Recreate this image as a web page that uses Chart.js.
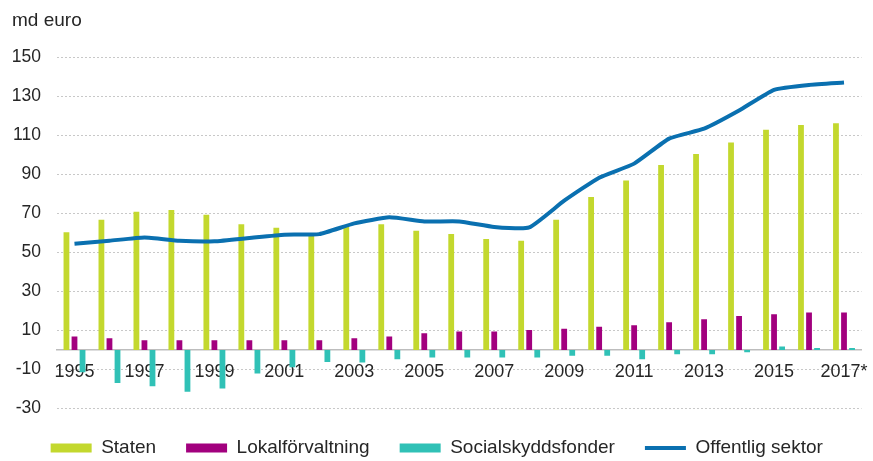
<!DOCTYPE html>
<html>
<head>
<meta charset="utf-8">
<script src="https://cdn.jsdelivr.net/npm/chart.js@4.4.1/dist/chart.umd.min.js"></script>
<style>
  html, body { margin: 0; padding: 0; background: #fff; }
  #wrap { width: 873px; height: 461px; }
</style>
</head>
<body>
<div id="wrap"><canvas id="myChart" width="873" height="461"></canvas></div>
<script>
'use strict';
const years = ['1995', '1996', '1997', '1998', '1999', '2000', '2001', '2002', '2003', '2004', '2005', '2006', '2007', '2008', '2009', '2010', '2011', '2012', '2013', '2014', '2015', '2016', '2017*'];
const staten = [60.2, 66.7, 70.8, 71.6, 69.2, 64.3, 62.6, 59, 63.5, 64.4, 61, 59.3, 56.8, 55.9, 66.7, 78.3, 86.7, 94.7, 100.3, 106.2, 112.8, 115.2, 116.1];
const lokal = [6.9, 6.0, 5.0, 5.0, 5.0, 5.0, 5.0, 5.0, 6.0, 6.9, 8.5, 9.4, 9.4, 10.2, 10.9, 11.9, 12.6, 14.2, 15.7, 17.4, 18.3, 19.1, 19.1];
const social = [-11.5, -16.9, -18.6, -21.4, -19.7, -12.1, -8.9, -6.2, -6.5, -4.8, -3.9, -3.9, -3.9, -3.9, -3, -3, -4.8, -2.2, -2.2, -1.2, 1.8, 1.0, 1.0];
const offentlig = [54.4, 55.9, 57.6, 55.9, 55.6, 57.3, 59, 59.3, 64.8, 67.9, 65.8, 65.8, 63, 62.7, 76.4, 88.2, 95.4, 108.2, 113.3, 122.6, 133.2, 135.7, 136.9];
const yTicks = [-30, -10, 10, 30, 50, 70, 90, 110, 130, 150];

const fontFamily = "'Liberation Sans', Arial, sans-serif";
const textColor = '#262626';

function barSet(label, data, color) {
  return {
    type: 'bar',
    label: label,
    data: data,
    backgroundColor: color,
    borderWidth: 0,
    categoryPercentage: 0.69,
    barPercentage: 0.72,
    order: 1
  };
}

const ctx = document.getElementById('myChart').getContext('2d');
const chart = new Chart(ctx, {
  type: 'bar',
  data: {
    labels: years,
    datasets: [
      barSet('Staten', staten, '#c3d82e'),
      barSet('Lokalförvaltning', lokal, '#a2007e'),
      barSet('Socialskyddsfonder', social, '#30c1b6'),
      {
        type: 'line',
        label: 'Offentlig sektor',
        data: offentlig,
        borderColor: '#0a70b0',
        backgroundColor: '#0a70b0',
        borderWidth: 4,
        pointRadius: 0,
        tension: 0.15,
        order: 0
      }
    ]
  },
  options: {
    responsive: false,
    animation: false,
    layout: { padding: { left: 12, right: 11.5, top: 0, bottom: 2.5 } },
    plugins: {
      tooltip: { enabled: false },
      title: {
        display: true,
        text: 'md euro',
        align: 'start',
        color: textColor,
        font: { family: fontFamily, size: 19, weight: 'normal' },
        padding: { top: 9, bottom: 25.2 }
      },
      legend: {
        position: 'bottom',
        maxHeight: 50,
        labels: {
          color: textColor,
          font: { family: fontFamily, size: 19 },
          usePointStyle: true,
          pointStyleWidth: 41,
          boxHeight: 9,
          padding: 30,
          generateLabels: function (c) {
            return c.data.datasets.map(function (ds, i) {
              const isLine = ds.type === 'line';
              return {
                text: ds.label,
                fillStyle: ds.backgroundColor,
                strokeStyle: isLine ? ds.borderColor : ds.backgroundColor,
                lineWidth: isLine ? 4 : 0,
                pointStyle: isLine ? 'line' : 'rect',
                hidden: false,
                datasetIndex: i,
                fontColor: textColor
              };
            });
          }
        }
      }
    },
    scales: {
      x: {
        position: { y: 0 },
        grid: { display: false, drawTicks: false },
        border: { display: true, color: '#bdbdbd', width: 1.5 },
        // axis sits on the zero line, so it should not push the plot inwards
        afterFit: function (axis) {
          axis.paddingLeft = 0;
          axis.paddingRight = 0;
        },
        ticks: {
          color: textColor,
          font: { family: fontFamily, size: 18 },
          autoSkip: false,
          maxRotation: 0,
          padding: 11,
          // only every second year is labelled
          callback: function (val, i) {
            return i % 2 === 0 ? years[i] : '';
          }
        }
      },
      y: {
        min: -30,
        max: 150,
        afterBuildTicks: function (axis) {
          axis.ticks = yTicks.map(v => ({ value: v }));
        },
        afterFit: function (axis) {
          axis.width = 45;
        },
        grid: { color: '#c8c8c8', lineWidth: 1, drawTicks: false },
        border: { display: false, dash: [2, 2] },
        ticks: {
          color: textColor,
          font: { family: fontFamily, size: 17.5 },
          padding: 16
        }
      }
    }
  }
});
</script>
</body>
</html>
